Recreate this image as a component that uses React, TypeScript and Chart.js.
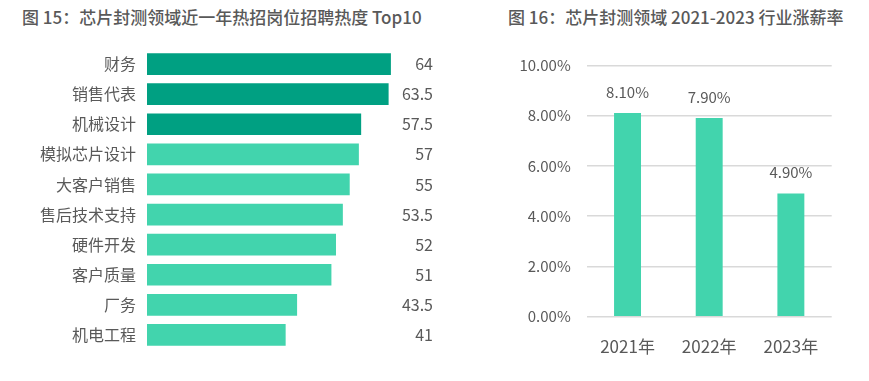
import React, { useEffect, useRef } from "react";
import { Chart, registerables } from "chart.js";

Chart.register(...registerables);

const leftTitle = "图 15：芯片封测领域近一年热招岗位招聘热度 Top10";
const rightTitle = "图 16：芯片封测领域 2021-2023 行业涨薪率";

const jobCategories = [
  "财务",
  "销售代表",
  "机械设计",
  "模拟芯片设计",
  "大客户销售",
  "售后技术支持",
  "硬件开发",
  "客户质量",
  "厂务",
  "机电工程",
];
const jobHeat = [64, 63.5, 57.5, 57, 55, 53.5, 52, 51, 43.5, 41];

const years = ["2021年", "2022年", "2023年"];
const raiseRates = [8.1, 7.9, 4.9];

const FONT = '"Noto Sans CJK SC", "Noto Sans", sans-serif';
const TEXT = "#595959";
const DARK = "#00A082";
const LIGHT = "#42D4AD";

export default function App() {
  const leftRef = useRef<HTMLCanvasElement>(null);
  const rightRef = useRef<HTMLCanvasElement>(null);

  useEffect(() => {
    document.body.style.margin = "0";

    const leftLabels = {
      id: "leftLabels",
      afterDatasetsDraw(chart: any) {
        const ctx = chart.ctx;
        const meta = chart.getDatasetMeta(0);
        ctx.save();
        ctx.font = `16px ${FONT}`;
        ctx.fillStyle = TEXT;
        ctx.textAlign = "right";
        ctx.textBaseline = "middle";
        meta.data.forEach((bar: any, i: number) => {
          ctx.fillText(String(jobHeat[i]), chart.chartArea.right, bar.y);
        });
        ctx.restore();
      },
    };

    const left = new Chart(leftRef.current!, {
      type: "bar",
      data: {
        labels: jobCategories,
        datasets: [
          {
            data: jobHeat,
            backgroundColor: jobHeat.map((_, i) => (i < 3 ? DARK : LIGHT)),
            borderWidth: 0,
            barPercentage: 0.72,
            categoryPercentage: 1,
          },
        ],
      },
      options: {
        indexAxis: "y",
        animation: false,
        responsive: false,
        maintainAspectRatio: false,
        layout: { padding: { left: 0, right: 27, top: 49, bottom: 31 } },
        plugins: { legend: { display: false }, tooltip: { enabled: false } },
        scales: {
          x: { display: false, min: 10.7, max: 73.2 },
          y: {
            grid: { display: false, drawTicks: false },
            border: { display: false },
            ticks: { padding: 11, color: TEXT, font: { family: FONT, size: 16 } },
            afterFit: (s: any) => {
              s.width = 147;
            },
          },
        },
      },
      plugins: [leftLabels],
    });

    const rightLabels = {
      id: "rightLabels",
      afterDatasetsDraw(chart: any) {
        const ctx = chart.ctx;
        const meta = chart.getDatasetMeta(0);
        ctx.save();
        ctx.font = `15px ${FONT}`;
        ctx.fillStyle = TEXT;
        ctx.textAlign = "center";
        ctx.textBaseline = "middle";
        meta.data.forEach((bar: any, i: number) => {
          ctx.fillText(raiseRates[i].toFixed(2) + "%", bar.x, bar.y - 21);
        });
        ctx.restore();
      },
    };

    const right = new Chart(rightRef.current!, {
      type: "bar",
      data: {
        labels: years,
        datasets: [
          {
            data: raiseRates,
            backgroundColor: LIGHT,
            borderWidth: 0,
            barPercentage: 0.33,
            categoryPercentage: 1,
          },
        ],
      },
      options: {
        animation: false,
        responsive: false,
        maintainAspectRatio: false,
        layout: { padding: { left: 0, right: 37.3, top: 65.3, bottom: 0 } },
        plugins: { legend: { display: false }, tooltip: { enabled: false } },
        scales: {
          x: {
            grid: { display: false, drawTicks: false },
            border: { display: false },
            ticks: { padding: 20, color: TEXT, font: { family: FONT, size: 17 } },
            afterFit: (s: any) => {
              s.height = 64.3;
            },
          },
          y: {
            min: 0,
            max: 10,
            grid: { color: "#d9d9d9", lineWidth: 1.5, drawTicks: false },
            border: { display: false },
            ticks: {
              stepSize: 2,
              padding: 16,
              color: TEXT,
              font: { family: FONT, size: 15 },
              callback: (v: any) => Number(v).toFixed(2) + "%",
            },
            afterFit: (s: any) => {
              s.width = 106.7;
            },
          },
        },
      },
      plugins: [rightLabels],
    });

    return () => {
      left.destroy();
      right.destroy();
    };
  }, []);

  const titleStyle: React.CSSProperties = {
    position: "absolute",
    top: 7,
    fontFamily: FONT,
    fontSize: 17,
    fontWeight: 500,
    color: TEXT,
    lineHeight: "20px",
    whiteSpace: "nowrap",
  };

  return (
    <div style={{ position: "relative", width: 869, height: 381, background: "#fff", overflow: "hidden" }}>
      <div style={{ ...titleStyle, left: 22 }}>{leftTitle}</div>
      <div style={{ ...titleStyle, left: 508 }}>{rightTitle}</div>
      <canvas
        ref={leftRef}
        width={460}
        height={381}
        style={{ position: "absolute", left: 0, top: 0, width: 460, height: 381 }}
      />
      <canvas
        ref={rightRef}
        width={389}
        height={381}
        style={{ position: "absolute", left: 480, top: 0, width: 389, height: 381 }}
      />
    </div>
  );
}
